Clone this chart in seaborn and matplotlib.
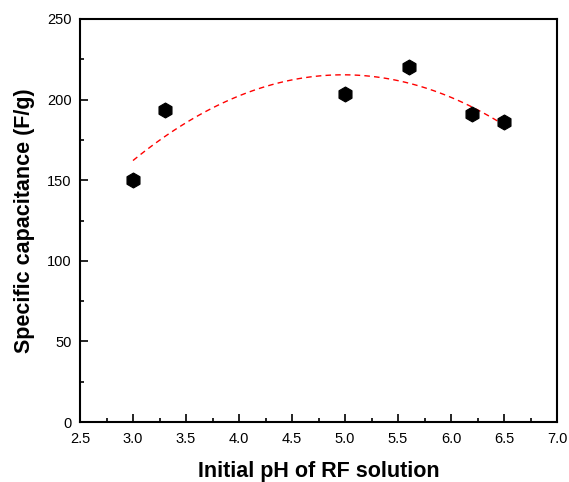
import matplotlib

matplotlib.use("Agg")

import matplotlib.pyplot as plt
import pandas as pd
import seaborn as sns
from matplotlib.ticker import AutoMinorLocator, MultipleLocator

PH = [3.0, 3.3, 5.0, 5.6, 6.2, 6.5]
CAPACITANCE = [150.0, 193.5, 203.5, 220.5, 191.0, 186.0]


def main() -> None:
    data = pd.DataFrame({"ph": PH, "cap": CAPACITANCE})

    sns.set_theme(style="ticks")
    plt.rcParams["font.family"] = ["Liberation Sans", "DejaVu Sans"]
    plt.rcParams["text.color"] = "black"
    plt.rcParams["axes.labelcolor"] = "black"

    fig = plt.figure(figsize=(5.69, 4.82), dpi=100)
    axis = fig.add_axes([80 / 569, 60 / 482, 477 / 569, 403 / 482])

    # quadratic fit through the measured points
    sns.regplot(
        data=data,
        x="ph",
        y="cap",
        order=2,
        ci=None,
        scatter=False,
        ax=axis,
        line_kws={"color": "red", "linestyle": (0, (4, 3)), "linewidth": 1.0},
    )
    sns.scatterplot(
        data=data,
        x="ph",
        y="cap",
        marker="h",
        s=115,
        color="black",
        edgecolor="black",
        ax=axis,
        zorder=3,
    )

    axis.set_xlim(2.5, 7.0)
    axis.set_ylim(0, 250)
    axis.xaxis.set_major_locator(MultipleLocator(0.5))
    axis.yaxis.set_major_locator(MultipleLocator(50))
    axis.xaxis.set_minor_locator(AutoMinorLocator(2))
    axis.yaxis.set_minor_locator(AutoMinorLocator(2))
    axis.xaxis.set_major_formatter(plt.FormatStrFormatter("%.1f"))
    axis.tick_params(which="both", direction="in", top=False, right=False, labelsize=10.5,
                     colors="black", labelcolor="black", width=1.2)
    axis.tick_params(which="major", length=6)
    axis.tick_params(which="minor", length=3)
    axis.tick_params(axis="x", which="major", pad=7)
    axis.tick_params(axis="y", which="major", pad=6)
    for spine in axis.spines.values():
        spine.set_visible(True)
        spine.set_linewidth(1.5)
        spine.set_color("black")

    axis.set_xlabel("Initial pH of RF solution", fontsize=15.5, fontweight="bold", labelpad=11)
    axis.set_ylabel("Specific capacitance (F/g)", fontsize=15.5, fontweight="bold", labelpad=9)

    fig.savefig("out.png", dpi=100)
    plt.close(fig)


if __name__ == "__main__":
    main()
